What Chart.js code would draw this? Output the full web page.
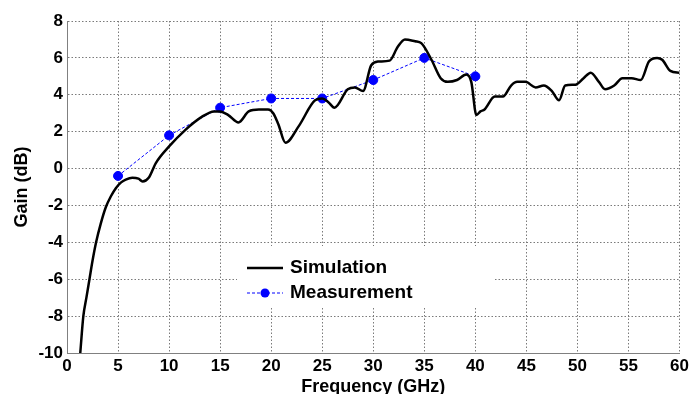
<!DOCTYPE html>
<html>
<head>
<meta charset="utf-8">
<script src="https://cdn.jsdelivr.net/npm/chart.js@4/dist/chart.umd.min.js"></script>
<style>
  html, body { margin: 0; padding: 0; background: #fff; }
  #wrap { width: 692px; height: 394px; }
</style>
</head>
<body>
<div id="wrap"><canvas id="gainChart" width="692" height="394"></canvas></div>
<script>
// Simulation curve (GHz, dB)
const simFreq = [1.3, 1.6, 1.9, 2.2, 2.5, 2.85, 3.3, 3.8, 4.3, 4.8, 5.3, 5.75, 6.4, 7.0, 7.4, 8.0, 8.7, 10, 11.6, 13.2, 14.4, 15, 15.8,
  16.8, 17.8, 18.8, 19.7, 20.2, 20.7, 21.4, 22.7, 24.3, 25, 25.6, 26.2, 27.5, 28.2, 29, 29.8, 30.5, 31.6, 32.4, 33.1,
  34.1, 34.7, 35.7, 36.6, 37.3, 38.2, 39.1, 39.6, 40.1, 40.5, 40.9, 41.9, 42.7, 43.5, 44.1, 44.9, 45.9, 46.7, 47.5, 48.2,
  48.8, 49.8, 50.6, 51.3, 52.1, 52.7, 53.6, 54.4, 55.3, 56.2, 57.0, 57.8, 58.3, 59.1, 60];
const simGain = [-10, -8, -7, -6, -5, -4, -3, -2.1, -1.5, -1.05, -0.75, -0.6, -0.5, -0.55, -0.7, -0.5, 0.3, 1.2, 2.1, 2.8, 3.1, 3.1, 2.9,
  2.5, 3.1, 3.2, 3.2, 3.0, 2.4, 1.4, 2.3, 3.7, 3.8, 3.6, 3.3, 4.3, 4.4, 4.2, 5.6, 5.8, 5.85, 6.6, 7.0,
  6.9, 6.8, 5.9, 4.9, 4.7, 4.8, 5.1, 4.7, 2.9, 3.1, 3.2, 3.9, 3.9, 4.5, 4.7, 4.7, 4.4, 4.5, 4.2, 3.7,
  4.5, 4.55, 4.9, 5.2, 4.7, 4.3, 4.5, 4.9, 4.9, 4.8, 5.8, 6.0, 5.9, 5.3, 5.2];

// Measured points
const measFreq = [5, 10, 15, 20, 25, 30, 35, 40];
const measGain = [-0.4, 1.8, 3.3, 3.8, 3.8, 4.8, 6.0, 5.0];

const xTicks = [0, 5, 10, 15, 20, 25, 30, 35, 40, 45, 50, 55, 60];
const yTicks = [-10, -8, -6, -4, -2, 0, 2, 4, 6, 8];

const FONT = "'Liberation Sans', Arial, sans-serif";
Chart.defaults.font.family = FONT;
Chart.defaults.color = "#000";

// legend drawn inside the plot, on a white box, from the dataset styles
const innerLegend = {
  id: "innerLegend",
  afterDraw(chart) {
    const ctx = chart.ctx;
    const area = chart.chartArea;
    const bx = area.left + 170, by = area.top + 225, bw = 256, bh = 60;
    ctx.save();
    ctx.fillStyle = "#fff";
    ctx.fillRect(bx, by, bw, bh);
    ctx.font = "bold 19px " + FONT;
    ctx.textBaseline = "middle";
    chart.data.datasets.forEach((ds, i) => {
      const y = by + 22 + i * 25;
      const x0 = bx + 10, x1 = bx + 46;
      ctx.strokeStyle = ds.borderColor;
      ctx.lineWidth = ds.borderWidth;
      ctx.setLineDash(ds.borderDash || []);
      ctx.beginPath();
      ctx.moveTo(x0, y);
      ctx.lineTo(x1, y);
      ctx.stroke();
      ctx.setLineDash([]);
      if (ds.pointRadius > 0) {
        ctx.fillStyle = ds.pointBackgroundColor;
        ctx.beginPath();
        ctx.arc((x0 + x1) / 2, y, ds.pointRadius, 0, Math.PI * 2);
        ctx.fill();
      }
      ctx.fillStyle = "#000";
      ctx.fillText(ds.label, x1 + 7, y);
    });
    ctx.restore();
  },
};

new Chart(document.getElementById("gainChart"), {
  type: "line",
  data: {
    datasets: [
      {
        label: "Simulation",
        data: simFreq.map((f, i) => ({ x: f, y: simGain[i] })),
        borderColor: "#000",
        borderWidth: 2.5,
        pointRadius: 0,
        cubicInterpolationMode: "monotone",
        fill: false,
      },
      {
        label: "Measurement",
        data: measFreq.map((f, i) => ({ x: f, y: measGain[i] })),
        borderColor: "#0000ff",
        borderWidth: 1,
        borderDash: [3, 2],
        pointRadius: 4.5,
        pointBackgroundColor: "#0000ff",
        pointBorderColor: "#0000ff",
        fill: false,
      },
    ],
  },
  options: {
    responsive: false,
    devicePixelRatio: 1,
    animation: false,
    layout: { padding: { top: 21, right: 10, left: 0, bottom: 0 } },
    plugins: { legend: { display: false }, tooltip: { enabled: false } },
    scales: {
      x: {
        type: "linear",
        min: 0,
        max: 60,
        afterBuildTicks: (s) => { s.ticks = xTicks.map((v) => ({ value: v })); },
        afterFit: (s) => { s.height = 41; },
        ticks: { font: { size: 17, weight: "bold" }, padding: 3, maxRotation: 0 },
        grid: { color: "#7a7a7a", drawTicks: false },
        border: { color: "#808080", width: 1, dash: [1.5, 2] },
        title: {
          display: true,
          text: "Frequency (GHz)",
          font: { size: 18, weight: "bold", lineHeight: 1 },
          padding: { top: 0, bottom: -2 },
        },
      },
      y: {
        min: -10,
        max: 8,
        afterBuildTicks: (s) => { s.ticks = yTicks.map((v) => ({ value: v })); },
        afterFit: (s) => { s.width = 67; },
        ticks: { font: { size: 17, weight: "bold" }, padding: 4 },
        grid: { color: "#7a7a7a", drawTicks: false },
        border: { color: "#808080", width: 1, dash: [1.5, 2] },
        title: {
          display: true,
          text: "Gain (dB)",
          font: { size: 18, weight: "bold", lineHeight: 1 },
          padding: { top: 13, bottom: 0 },
        },
      },
    },
  },
  plugins: [innerLegend],
});
</script>
</body>
</html>
